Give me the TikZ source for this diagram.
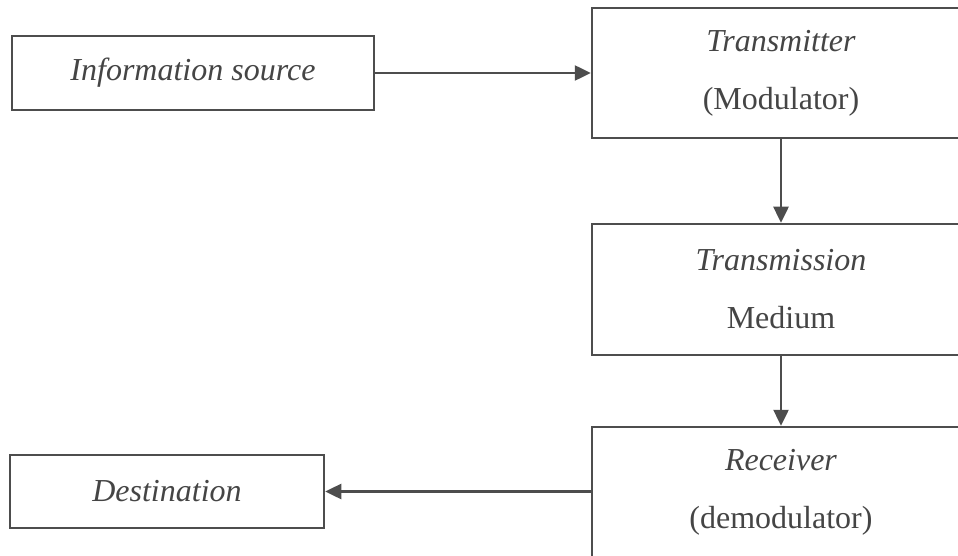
\documentclass[tikz,border=0pt]{standalone}
\usepackage{fontspec}
\setmainfont{Liberation Serif}
\usetikzlibrary{arrows.meta}
\definecolor{ink}{HTML}{4D4D4D}
\definecolor{txt}{HTML}{454545}
\begin{document}
\begin{tikzpicture}[x=1pt,y=-1pt,
  box/.style={draw=ink, line width=2.5pt, rectangle, inner sep=0pt, align=center,
    text=txt, font=\fontsize{32}{58}\selectfont},
  conn/.style={draw=ink, line width=2.5pt, -{Triangle[length=16pt,width=15pt]}}]
\clip (0,0) rectangle (958,556);
\fill[white] (0,0) rectangle (958,556);
\node[box, minimum width=362pt, minimum height=74pt] (src) at (193,73) {\textit{Information source}};
\node[box, minimum width=378pt, minimum height=130pt] (tx) at (781,73) {\textit{Transmitter}\\(Modulator)};
\node[box, minimum width=378pt, minimum height=131pt] (med) at (781,289.5) {\textit{Transmission}\\Medium};
\node[box, minimum width=378pt, minimum height=131pt] (rx) at (781,492.5) {\textit{Receiver}\\(demodulator)};
\node[box, minimum width=314pt, minimum height=73pt] (dst) at (167,491.5) {\textit{Destination}};
\draw[conn] (src) -- (tx);
\draw[conn] (tx) -- (med);
\draw[conn] (med) -- (rx);
\draw[conn] (rx.west |- dst.east) -- (dst.east);
\end{tikzpicture}
\end{document}
